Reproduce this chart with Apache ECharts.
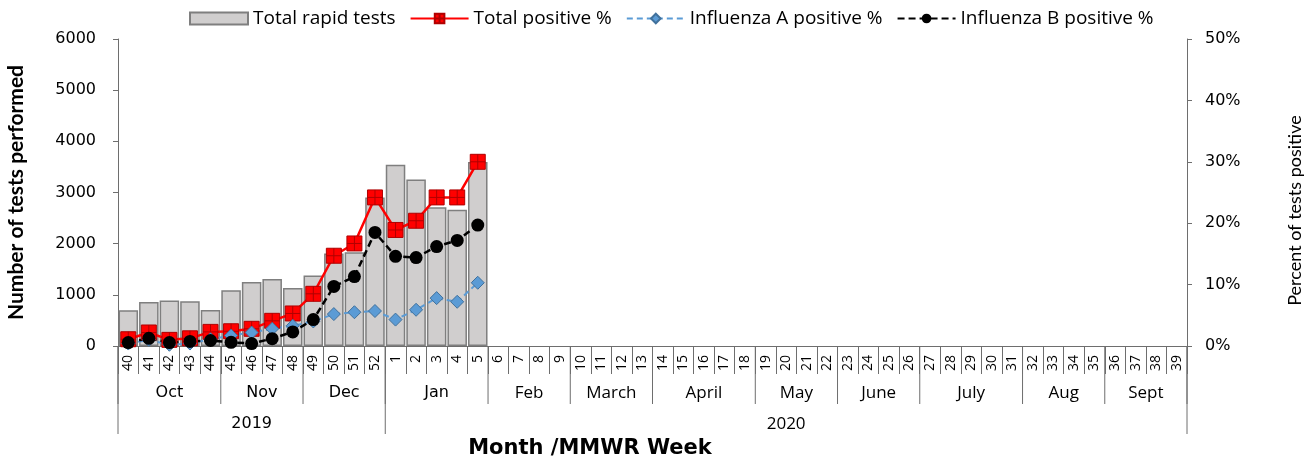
<!DOCTYPE html>
<html><head><meta charset="utf-8">
<script src="https://cdn.jsdelivr.net/npm/echarts@6/dist/echarts.min.js"></script>
<style>html,body{margin:0;padding:0;background:#fff}#c{width:1313px;height:461px}</style>
</head><body><div id="c"></div>
<script>
const weeks = ['40','41','42','43','44','45','46','47','48','49','50','51','52',
  '1','2','3','4','5','6','7','8','9','10','11','12','13','14','15','16','17','18','19','20',
  '21','22','23','24','25','26','27','28','29','30','31','32','33','34','35','36','37','38','39'];
const totalTests = [700, 860, 890, 875, 705, 1090, 1250, 1310, 1135, 1380, 1810, 1830, 2900, 3540, 3255, 2710, 2665, 3595];
const totalPositivePct = [1.1, 2.2, 1.0, 1.25, 2.3, 2.4, 2.8, 4.1, 5.3, 8.5, 14.7, 16.7, 24.2, 18.9, 20.4, 24.2, 24.2, 30.0];
const fluAPct = [0.4, 1.0, 0.2, 0.4, 1.1, 1.7, 2.2, 2.8, 3.3, 4.0, 5.2, 5.5, 5.7, 4.3, 5.9, 7.8, 7.2, 10.3];
const fluBPct = [0.55, 1.25, 0.55, 0.75, 0.9, 0.6, 0.4, 1.2, 2.3, 4.3, 9.7, 11.3, 18.5, 14.6, 14.4, 16.2, 17.2, 19.7];
const months = ['Oct','Nov','Dec','Jan','Feb','March','April','May','June','July','Aug','Sept'];
const monthWeekCounts = [5,4,4,5,4,4,5,4,4,5,4,4];
const years = ['2019','2020'];
const yearWeekCounts = [13,39];

const chart = echarts.init(document.getElementById('c'), null, {renderer:'canvas'});
const axisCol = '#6e6e6e';
const sqPath = 'path://M0,0H10V10H0Z M5,0V10 M0,5H10';

chart.setOption({
  animation: false,
  legend: {
    top: 4, left: 184, itemGap: 14, itemWidth: 58, itemHeight: 12,
    textStyle: {fontFamily: 'Open Sans', fontSize: 19, color: '#000'},
    data: [
      {name: 'Total rapid tests', icon: 'rect'},
      {name: 'Total positive %'},
      {name: 'Influenza A positive %'},
      {name: 'Influenza B positive %'}
    ]
  },
  grid: {left: 118, right: 126, top: 39, bottom: 115, outerBoundsMode: 'none', containLabel: false},
  xAxis: {
    type: 'category', data: weeks, boundaryGap: true,
    axisLine: {lineStyle: {color: axisCol, width: 1}},
    axisTick: {show: true, interval: 0, length: 28, lineStyle: {color: axisCol}},
    axisLabel: {interval: 0, rotate: 90, margin: 9, fontFamily: 'Open Sans', fontSize: 14, color: '#000'}
  },
  yAxis: [{
    type: 'value', min: 0, max: 6000, interval: 1000,
    name: 'Number of tests performed', nameLocation: 'middle', nameRotate: 90, nameGap: 91,
    nameTextStyle: {fontFamily: 'Lato', fontSize: 21, fontWeight: 'bold', color: '#000'},
    axisLine: {show: true, lineStyle: {color: axisCol}},
    axisTick: {show: true, length: 5, lineStyle: {color: axisCol}},
    axisLabel: {fontFamily: 'DejaVu Sans', fontSize: 16, color: '#000', margin: 22, formatter: v => String(v)},
    splitLine: {show: false}
  }, {
    type: 'value', min: 0, max: 50, interval: 10, position: 'right',
    name: 'Percent of tests positive', nameLocation: 'middle', nameRotate: 90, nameGap: 99,
    nameTextStyle: {fontFamily: 'Lato', fontSize: 18, color: '#000', padding: [0, 36, 0, 0]},
    axisLine: {show: true, lineStyle: {color: axisCol}},
    axisTick: {show: true, length: 5, lineStyle: {color: axisCol}},
    axisLabel: {fontFamily: 'DejaVu Sans', fontSize: 16, color: '#000', margin: 18, formatter: '{value}%'},
    splitLine: {show: false}
  }],
  series: [{
    name: 'Total rapid tests', type: 'bar', data: totalTests, barCategoryGap: '5%',
    itemStyle: {color: '#d0cece', borderColor: '#7f7f7f', borderWidth: 1.5}
  }, {
    name: 'Total positive %', type: 'line', yAxisIndex: 1, data: totalPositivePct,
    symbol: sqPath, symbolSize: 15,
    lineStyle: {color: '#ff0000', width: 2.5},
    itemStyle: {color: '#ff0000', borderColor: '#b00000', borderWidth: 1}
  }, {
    name: 'Influenza A positive %', type: 'line', yAxisIndex: 1, data: fluAPct,
    symbol: 'diamond', symbolSize: 13,
    lineStyle: {color: '#5b9bd5', width: 2, type: [6, 4]},
    itemStyle: {color: '#5b9bd5', borderColor: '#41719c', borderWidth: 1}
  }, {
    name: 'Influenza B positive %', type: 'line', yAxisIndex: 1, data: fluBPct,
    symbol: 'circle', symbolSize: 13,
    lineStyle: {color: '#000', width: 2.5, type: [7, 4]},
    itemStyle: {color: '#000'}
  }]
});

// multi-level category labels (month / year), positioned through the axis scale
const px = i => chart.convertToPixel({xAxisIndex: 0}, i);
const band = px(1) - px(0);
const edge = i => px(i) - band / 2;
const y0 = chart.convertToPixel({yAxisIndex: 0}, 0);
const g = [];
const lineEl = (x, y2) => ({type: 'line', silent: true, shape: {x1: x, y1: y0, x2: x, y2: y2}, style: {stroke: axisCol, lineWidth: 1}});
const textEl = (x, y, t, font) => ({type: 'text', silent: true, x: x, y: y,
  style: {text: t, font: font, fill: '#000', align: 'center', verticalAlign: 'middle', textAlign: 'center', textVerticalAlign: 'middle'}});
let s = 0;
months.forEach((m, k) => {
  const e = s + monthWeekCounts[k];
  g.push(lineEl(edge(s), y0 + 58));
  const font = k < 4 ? '16px "DejaVu Sans"' : '17px "Open Sans"';
  g.push(textEl((edge(s) + edge(e)) / 2, y0 + 47, m, font));
  s = e;
});
g.push(lineEl(edge(s), y0 + 58));
s = 0;
years.forEach((yv, k) => {
  const e = s + yearWeekCounts[k];
  g.push(lineEl(edge(s), y0 + 88));
  const font = k === 0 ? '16px "DejaVu Sans"' : '17px "Open Sans"';
  g.push(textEl((edge(s) + edge(e)) / 2, y0 + 78, yv, font));
  s = e;
});
g.push(lineEl(edge(s), y0 + 88));
g.push({type: 'text', silent: true, x: 590, y: 449,
  style: {text: 'Month /MMWR Week', font: 'bold 21px "DejaVu Sans"', fill: '#000', align: 'center', verticalAlign: 'middle', textAlign: 'center', textVerticalAlign: 'middle'}});
chart.setOption({graphic: g});
</script></body></html>
